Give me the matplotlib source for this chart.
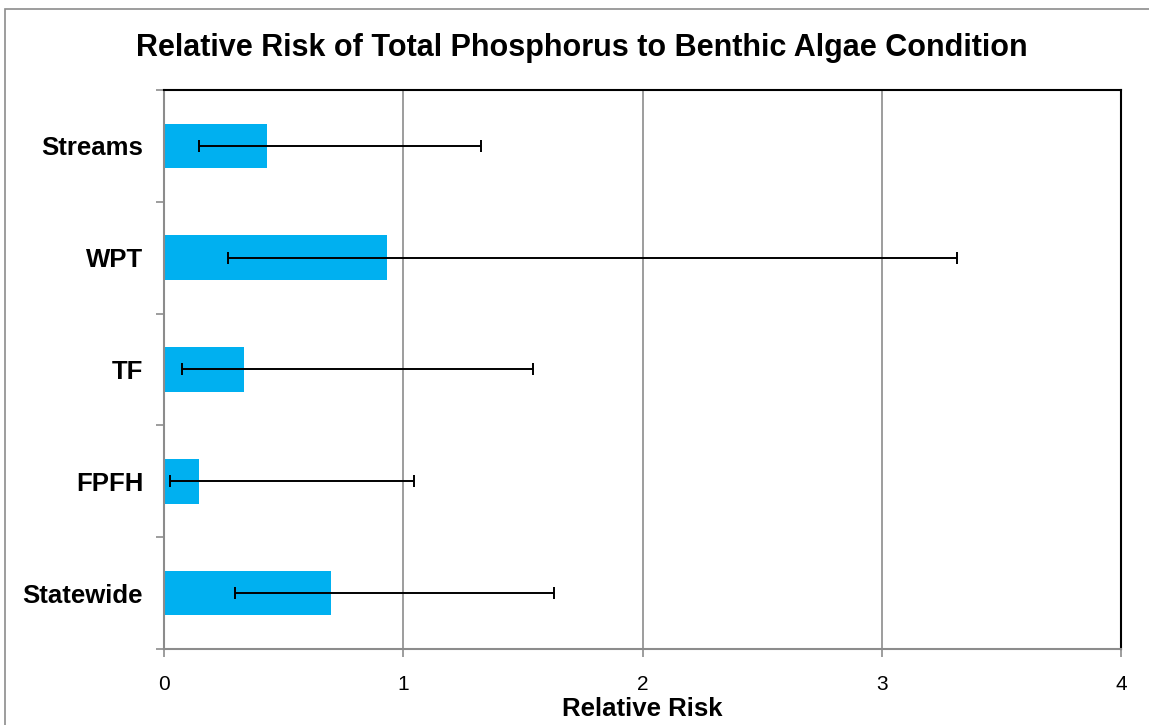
import matplotlib.pyplot as plt
from matplotlib.patches import Rectangle

# Data
categories = ["Streams", "WPT", "TF", "FPFH", "Statewide"]
relative_risk = [0.43, 0.93, 0.335, 0.145, 0.70]
ci_lower = [0.146, 0.267, 0.075, 0.025, 0.297]
ci_upper = [1.325, 3.315, 1.542, 1.045, 1.63]
x_ticks = [0, 1, 2, 3, 4]

fig = plt.figure(figsize=(11.49, 7.25), dpi=100)
ax = fig.add_axes([164 / 1149, 1 - 649 / 725, (1121 - 164) / 1149, (649 - 90) / 725])

# outer chart border (cut off at right/bottom like the original)
fig.patches.append(Rectangle((5 / 1149, -0.1), 1.2, 1 - 9 / 725 + 0.1, transform=fig.transFigure,
                             fill=False, edgecolor="#8c8c8c", linewidth=1.2))

ypos = list(range(len(categories)))
ax.barh(ypos, relative_risk, height=0.4, color="#00B0F0", zorder=2)

xerr = [[v - lo for v, lo in zip(relative_risk, ci_lower)],
        [hi - v for v, hi in zip(relative_risk, ci_upper)]]
ax.errorbar(relative_risk, ypos, xerr=xerr, fmt="none", ecolor="black",
            elinewidth=1.4, capsize=4, capthick=1.4, zorder=3)

ax.set_xlim(0, 4)
ax.set_ylim(len(categories) - 0.5, -0.5)
ax.set_xticks(x_ticks)
ax.set_xticklabels([str(t) for t in x_ticks], fontsize=15, family="Liberation Sans")
ax.set_yticks(ypos)
ax.set_yticklabels(categories, fontsize=18.5, fontweight="bold", family="Liberation Sans")
ax.set_yticks([i - 0.5 for i in range(len(categories) + 1)], minor=True)
ax.tick_params(axis="y", which="major", length=0, pad=15)
ax.tick_params(axis="y", which="minor", length=6, color="#8c8c8c", width=1.2)
ax.tick_params(axis="x", length=6, color="#8c8c8c", width=1.2, pad=13)

ax.grid(axis="x", color="#8c8c8c", linewidth=1.2, zorder=0)
ax.set_axisbelow(True)
for side in ["left", "bottom"]:
    ax.spines[side].set_color("#8c8c8c")
    ax.spines[side].set_linewidth(1.5)
for side in ["top", "right"]:
    ax.spines[side].set_color("black")
    ax.spines[side].set_linewidth(1.5)

ax.set_xlabel("Relative Risk", fontsize=18.5, fontweight="bold", family="Liberation Sans", labelpad=2)
fig.text(582 / 1149, 1 - 48 / 725, "Relative Risk of Total Phosphorus to Benthic Algae Condition",
         ha="center", va="center", fontsize=22, fontweight="bold", family="Liberation Sans")

fig.savefig("out.png", dpi=100)
